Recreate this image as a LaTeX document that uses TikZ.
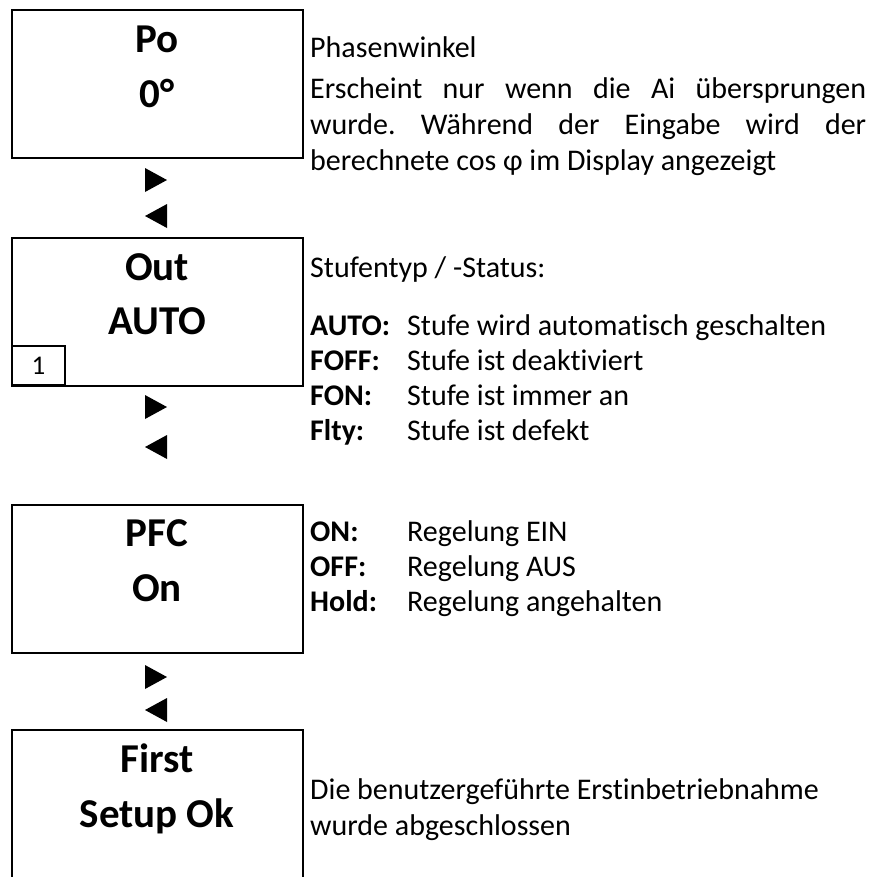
\documentclass[tikz,border=0pt]{standalone}
\usepackage{fontspec}
\setmainfont{Carlito}[Ligatures={NoCommon}]
\frenchspacing
\begin{document}
\begin{tikzpicture}[x=1pt,y=-1pt,
  screen/.style={draw, line width=2pt, minimum width=291pt, minimum height=148pt, anchor=north west, inner sep=0pt},
  tag/.style={draw, line width=2pt, minimum width=53pt, minimum height=39pt, anchor=north west, inner sep=0pt, font=\fontsize{27}{30}\selectfont},
  title/.style={font=\fontsize{41}{49}\selectfont\bfseries, anchor=base, inner sep=0pt},
  body/.style={font=\fontsize{30}{36}\selectfont, anchor=base west, inner sep=0pt},
  key/.style={font=\fontsize{30}{36}\selectfont\bfseries, anchor=base west, inner sep=0pt},
  para/.style={font=\fontsize{30}{36}\selectfont, anchor=base west, inner sep=0pt, text width=556pt, align=justify},
  nav/.style={fill=black}]
\useasboundingbox (0,0) rectangle (880,876);

% display screens
\node[screen] (s1) at (11,9) {};
\node[screen] (s2) at (11,237) {};
\node[screen] (s3) at (11,504) {};
\node[screen] (s4) at (11,729) {};
\node[tag] (t2) at (11,345) {1};

% screen texts
\node[title] (s1a) at (157,52) {Po};
\node[title] (s1b) at (157,107) {0°};
\node[title] (s2a) at (157,280) {Out};
\node[title] (s2b) at (157,334) {AUTO};
\node[title] (s3a) at (157,546) {PFC};
\node[title] (s3b) at (157,601) {On};
\node[title] (s4a) at (157,772) {First};
\node[title] (s4b) at (157,827) {Setup Ok};

% navigation arrows between screens
\foreach \y in {168,395,665}{
  \fill[nav] (145,\y) -- (167,\y+12) -- (145,\y+24) -- cycle;
}
\foreach \y in {204,435,698}{
  \fill[nav] (167,\y) -- (145,\y+12) -- (167,\y+24) -- cycle;
}

% descriptions
\node[body] (d1) at (310,57) {Phasenwinkel};
\node[para] (d1b) at (310,98) {\hyphenpenalty=10000 Erscheint nur wenn die Ai übersprungen\linebreak wurde. Während der Eingabe wird der\linebreak berechnete cos φ im Display angezeigt};

\node[body] (d2) at (310,277) {Stufentyp / -Status:};
\node[key] (k1) at (310,335) {AUTO:};
\node[body] (v1) at (407,335) {Stufe wird automatisch geschalten};
\node[key] (k2) at (310,370) {FOFF:};
\node[body] (v2) at (407,370) {Stufe ist deaktiviert};
\node[key] (k3) at (310,405) {FON:};
\node[body] (v3) at (407,405) {Stufe ist immer an};
\node[key] (k4) at (310,440) {Flty:};
\node[body] (v4) at (407,440) {Stufe ist defekt};

\node[key] (k5) at (310,541) {ON:};
\node[body] (v5) at (407,541) {Regelung EIN};
\node[key] (k6) at (310,576) {OFF:};
\node[body] (v6) at (407,576) {Regelung AUS};
\node[key] (k7) at (310,611) {Hold:};
\node[body] (v7) at (407,611) {Regelung angehalten};

\node[body] (d4) at (310,799) {Die benutzergeführte Erstinbetriebnahme};
\node[body] (d4b) at (310,835) {wurde abgeschlossen};
\end{tikzpicture}
\end{document}
